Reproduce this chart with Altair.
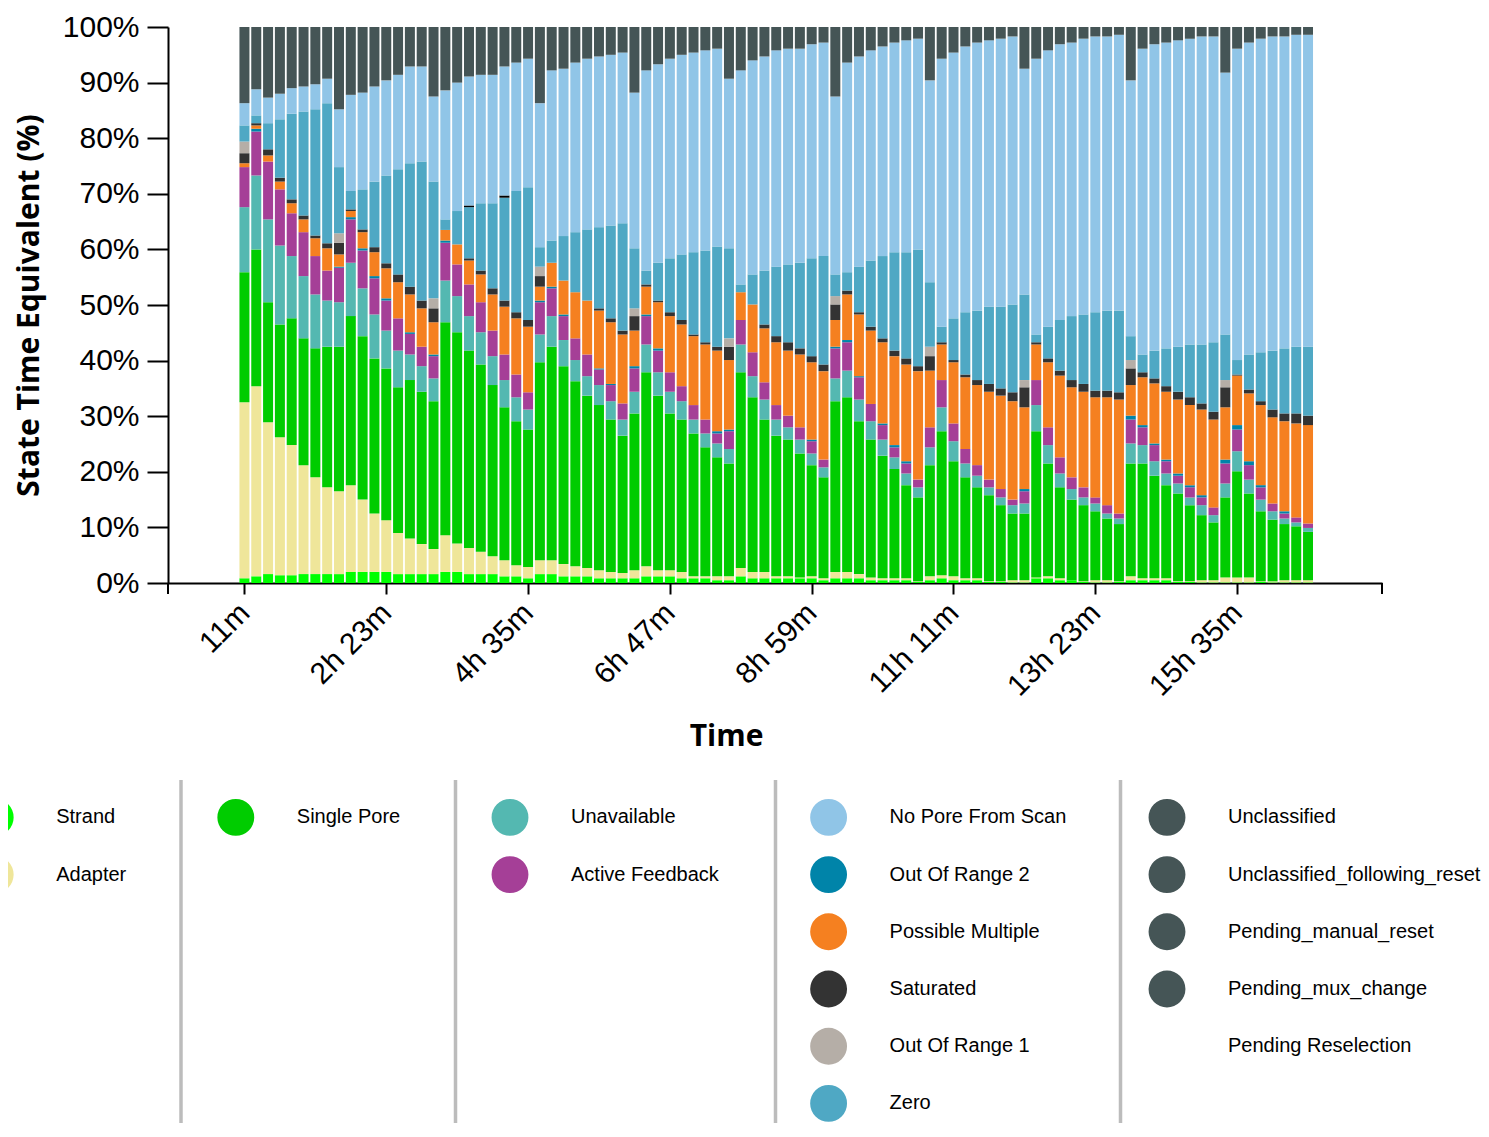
import altair as alt
import pandas as pd

# ---- time bins (minutes) ----
times = [11 * (i + 1) for i in range(91)]
tick_minutes = [11, 143, 275, 407, 539, 671, 803, 935]

# ---- cumulative tops (%) of each state, bottom -> top ----
strand_top = [0.85, 1.2, 1.6, 1.4, 1.4, 1.6, 1.6, 1.6, 1.6, 2.0,
              2.0, 2.0, 2.0, 1.6, 1.6, 1.6, 1.6, 2.0, 2.0, 1.6,
              1.6, 1.6, 1.2, 1.2, 0.85, 1.6, 1.6, 1.2, 1.2, 1.2,
              0.85, 0.85, 0.85, 0.85, 1.2, 1.2, 1.2, 0.85, 0.85, 0.85,
              0.5, 0.5, 1.2, 0.85, 0.85, 0.85, 0.85, 0.85, 0.85, 0.5,
              0.85, 0.85, 0.85, 0.5, 0.5, 0.5, 0.5, 0.2, 0.5, 0.85,
              0.5, 0.5, 0.5, 0.2, 0.2, 0.1, 0.1, 0.85, 0.85, 0.5,
              0.5, 0.2, 0.1, 0.1, 0.2, 0.5, 0.5, 0.5, 0.5, 0.2,
              0.2, 0.1, 0.1, 0.1, 0.1, 0.1, 0.2, 0.1, 0.1, 0.1,
              0.1]
adapter_top = [32.5, 35.4, 28.9, 26.2, 24.8, 21.2, 19.0, 17.2, 16.5, 17.6,
               15.0, 12.5, 11.3, 9.0, 8.0, 7.0, 6.1, 8.6, 7.1, 6.3,
               5.6, 4.8, 4.1, 3.2, 2.9, 4.1, 4.1, 3.4, 3.0, 2.7,
               2.3, 2.0, 1.8, 2.3, 3.0, 2.3, 2.3, 2.0, 1.2, 1.2,
               1.2, 1.2, 2.7, 2.0, 2.0, 1.2, 1.2, 1.0, 1.2, 0.85,
               2.0, 2.0, 1.6, 1.0, 0.85, 0.85, 0.85, 0.3, 1.2, 1.4,
               1.2, 0.85, 0.85, 0.3, 0.3, 0.5, 0.5, 1.0, 1.2, 0.85,
               0.5, 0.3, 0.5, 0.5, 0.3, 1.2, 0.85, 0.85, 0.85, 0.3,
               0.3, 0.5, 0.5, 1.0, 1.0, 1.0, 0.3, 0.3, 0.5, 0.5,
               0.5]
single_pore_top = [55.9, 60.0, 50.5, 46.5, 47.6, 44.0, 42.2, 42.5, 42.5, 48.0,
                   44.4, 40.4, 38.6, 35.2, 36.5, 34.4, 32.7, 46.9, 45.1, 41.8,
                   39.3, 35.6, 31.6, 29.1, 27.6, 39.7, 42.5, 39.0, 36.3, 33.7,
                   32.0, 29.4, 26.5, 30.5, 37.9, 33.7, 30.5, 29.4, 26.9, 24.4,
                   22.6, 21.5, 37.9, 33.4, 29.4, 26.5, 25.8, 23.3, 21.2, 19.0,
                   32.7, 33.4, 29.1, 25.8, 22.9, 20.5, 17.6, 15.4, 21.2, 27.3,
                   21.9, 19.0, 17.2, 15.8, 14.0, 12.5, 12.5, 27.3, 21.5, 17.2,
                   15.0, 14.0, 12.9, 11.6, 10.6, 21.5, 21.5, 19.3, 17.6, 16.1,
                   14.0, 12.2, 10.9, 15.4, 20.1, 16.1, 12.9, 11.4, 10.6, 10.2,
                   9.2]
unavailable_top = [67.6, 73.3, 65.4, 60.7, 58.8, 55.2, 51.9, 50.8, 50.5, 57.6,
                   53.0, 48.3, 45.4, 41.8, 41.1, 39.0, 36.8, 54.4, 51.6, 48.0,
                   45.1, 40.8, 36.5, 33.4, 31.2, 44.7, 48.0, 43.7, 40.1, 37.2,
                   35.6, 32.7, 29.4, 34.4, 42.9, 37.9, 34.4, 32.7, 29.4, 26.9,
                   25.1, 24.1, 42.9, 37.2, 33.0, 29.4, 28.0, 25.8, 23.3, 20.8,
                   36.8, 38.2, 33.0, 29.1, 25.8, 22.6, 19.7, 17.2, 24.4, 31.6,
                   25.5, 21.5, 19.3, 17.2, 15.4, 14.0, 14.3, 32.0, 24.8, 19.7,
                   16.9, 15.4, 14.3, 12.5, 11.6, 25.1, 24.8, 21.9, 19.7, 17.9,
                   15.4, 14.0, 12.2, 17.9, 23.7, 18.6, 15.0, 12.9, 11.6, 10.9,
                   9.9]
active_feedback_top = [74.8, 81.2, 75.8, 70.8, 66.5, 63.1, 58.8, 56.2, 56.7, 65.4,
                       59.8, 54.8, 50.8, 47.6, 44.8, 42.5, 40.8, 61.2, 57.3, 53.7,
                       50.5, 45.4, 41.1, 37.5, 34.3, 50.5, 53.0, 48.0, 44.0, 41.1,
                       38.4, 35.6, 32.3, 38.6, 48.0, 41.8, 37.9, 35.4, 32.0, 29.4,
                       26.9, 27.3, 47.3, 41.5, 36.1, 32.0, 30.1, 28.0, 25.5, 22.2,
                       42.2, 43.3, 37.0, 32.2, 28.4, 24.4, 21.5, 18.6, 28.0, 36.5,
                       28.7, 24.1, 21.2, 18.6, 16.9, 15.0, 16.5, 36.5, 28.0, 22.6,
                       19.0, 17.2, 15.4, 14.0, 12.5, 29.4, 28.0, 24.8, 21.9, 19.3,
                       17.2, 15.4, 13.6, 21.5, 27.6, 21.2, 17.2, 14.3, 12.5, 11.8,
                       10.7]
out_of_range2_top = [74.8, 81.7, 75.8, 70.8, 66.5, 63.1, 58.8, 56.2, 56.9, 65.8,
                     60.2, 55.2, 51.2, 47.6, 45.1, 42.5, 41.1, 61.6, 57.3, 53.7,
                     50.5, 45.4, 41.1, 37.5, 34.3, 50.8, 53.3, 48.3, 44.0, 41.1,
                     38.6, 35.8, 32.3, 39.0, 48.3, 42.2, 37.9, 35.4, 32.0, 29.4,
                     27.3, 27.6, 47.3, 41.5, 36.1, 32.0, 30.1, 28.0, 25.8, 22.2,
                     42.5, 43.7, 37.2, 32.2, 28.7, 24.8, 21.9, 18.6, 28.0, 36.5,
                     28.7, 24.1, 21.2, 18.6, 16.9, 15.0, 16.9, 36.5, 28.0, 22.6,
                     19.0, 17.2, 15.4, 14.0, 12.5, 30.1, 28.4, 25.1, 22.2, 19.7,
                     17.6, 15.8, 13.6, 22.2, 28.4, 21.9, 17.6, 14.3, 12.9, 11.8,
                     10.7]
possible_multiple_top = [75.5, 82.3, 76.9, 72.2, 68.3, 65.4, 62.0, 60.2, 59.1, 66.9,
                         63.1, 59.5, 56.6, 54.1, 51.9, 49.4, 46.9, 63.5, 60.9, 58.0,
                         55.5, 51.9, 49.7, 47.6, 46.1, 53.3, 57.6, 54.4, 52.3, 50.8,
                         49.0, 46.9, 44.7, 45.4, 53.3, 50.5, 48.0, 46.5, 44.4, 42.9,
                         41.8, 40.1, 52.3, 50.1, 45.8, 43.3, 41.8, 41.1, 39.7, 38.1,
                         47.3, 51.9, 48.3, 45.4, 43.3, 40.8, 39.3, 38.1, 38.2, 42.9,
                         39.7, 37.0, 35.6, 34.4, 33.7, 32.7, 31.6, 42.9, 39.7, 37.3,
                         35.2, 34.4, 33.4, 33.4, 33.0, 35.6, 37.0, 35.9, 34.4, 33.0,
                         32.0, 31.2, 29.4, 31.6, 37.3, 34.1, 32.0, 29.8, 29.1, 28.7,
                         28.4]
saturated_top = [77.3, 82.7, 78.0, 72.9, 69.0, 66.1, 62.5, 61.1, 61.2, 67.2,
                 63.6, 60.4, 57.5, 55.5, 53.3, 50.8, 49.4, 63.5, 60.9, 58.4,
                 56.2, 53.0, 50.8, 48.7, 47.3, 55.2, 57.6, 54.4, 52.3, 50.8,
                 49.4, 47.6, 45.4, 48.0, 53.7, 50.8, 48.7, 47.3, 44.7, 43.3,
                 42.5, 42.5, 52.3, 50.1, 46.5, 44.4, 43.3, 42.2, 40.8, 39.3,
                 50.1, 52.6, 48.7, 46.1, 44.0, 41.8, 40.4, 39.0, 40.8, 43.3,
                 40.1, 37.5, 36.5, 35.8, 35.0, 34.3, 35.2, 43.3, 40.4, 38.2,
                 36.5, 35.8, 34.6, 34.6, 34.3, 38.6, 37.9, 36.8, 35.4, 34.4,
                 33.4, 32.3, 30.8, 35.2, 37.5, 34.8, 32.7, 31.2, 30.5, 30.5,
                 30.1]
out_of_range1_top = [79.4, 82.7, 78.0, 72.9, 69.0, 66.1, 62.5, 61.1, 62.9, 67.2,
                     63.6, 60.4, 57.5, 55.5, 53.3, 50.8, 51.2, 63.5, 60.9, 58.4,
                     56.2, 53.0, 50.8, 48.7, 47.3, 56.9, 57.6, 54.4, 52.3, 50.8,
                     49.4, 47.6, 45.4, 49.4, 53.7, 50.8, 48.7, 47.3, 44.7, 43.3,
                     42.5, 44.0, 52.3, 50.1, 46.5, 44.4, 43.3, 42.2, 40.8, 39.3,
                     51.6, 52.6, 48.7, 46.1, 44.0, 41.8, 40.4, 39.0, 42.5, 43.3,
                     40.1, 37.5, 36.5, 35.8, 35.0, 34.3, 36.5, 43.3, 40.4, 38.2,
                     36.5, 35.8, 34.6, 34.6, 34.3, 40.1, 37.9, 36.8, 35.4, 34.4,
                     33.4, 32.3, 30.8, 36.5, 37.5, 34.8, 32.7, 31.2, 30.5, 30.5,
                     30.1]
zero_top = [82.3, 84.1, 82.7, 83.4, 84.4, 84.8, 85.2, 86.3, 74.8, 70.5,
            70.8, 72.2, 73.3, 74.4, 75.5, 75.8, 72.2, 65.4, 66.9, 67.6,
            68.3, 68.3, 69.3, 70.5, 71.2, 60.4, 61.6, 62.4, 63.1, 63.6,
            64.0, 64.3, 64.7, 60.2, 56.2, 57.6, 58.4, 59.1, 59.5, 59.8,
            60.5, 60.2, 53.7, 55.5, 56.2, 56.9, 57.3, 57.6, 58.4, 58.8,
            55.5, 55.9, 56.9, 58.0, 58.8, 59.5, 59.5, 60.0, 54.1, 46.1,
            47.6, 48.7, 49.0, 49.7, 49.7, 50.1, 51.9, 44.7, 46.1, 47.3,
            48.0, 48.3, 48.7, 49.0, 49.0, 44.4, 41.1, 41.8, 42.2, 42.5,
            42.9, 42.9, 43.3, 44.7, 40.1, 41.1, 41.5, 41.8, 42.2, 42.5,
            42.5]
pending_reselection_top = [82.3, 84.1, 82.7, 83.4, 84.4, 84.8, 85.2, 86.3, 74.8, 70.5,
                           70.8, 72.2, 73.3, 74.4, 75.5, 75.8, 72.2, 65.4, 66.9, 67.9,
                           68.3, 68.3, 69.7, 70.5, 71.2, 60.4, 61.6, 62.4, 63.1, 63.6,
                           64.0, 64.3, 64.7, 60.2, 56.2, 57.6, 58.4, 59.1, 59.5, 59.8,
                           60.5, 60.2, 53.7, 55.5, 56.2, 56.9, 57.3, 57.6, 58.4, 58.8,
                           55.5, 55.9, 56.9, 58.0, 58.8, 59.5, 59.5, 60.0, 54.1, 46.1,
                           47.6, 48.7, 49.0, 49.7, 49.7, 50.1, 51.9, 44.7, 46.1, 47.3,
                           48.0, 48.3, 48.7, 49.0, 49.0, 44.4, 41.1, 41.8, 42.2, 42.5,
                           42.9, 42.9, 43.3, 44.7, 40.1, 41.1, 41.5, 41.8, 42.2, 42.5,
                           42.5]
no_pore_top = [86.3, 88.8, 87.3, 88.0, 89.0, 89.3, 89.7, 90.7, 85.2, 87.8,
               88.2, 89.3, 90.4, 91.4, 92.9, 92.9, 87.5, 88.6, 90.0, 91.1,
               91.4, 91.4, 92.9, 93.6, 94.3, 86.3, 92.2, 92.5, 93.6, 94.3,
               94.7, 95.0, 95.4, 88.2, 92.2, 93.3, 94.3, 95.0, 95.4, 95.8,
               96.1, 90.7, 92.2, 94.0, 94.7, 95.8, 96.1, 96.1, 96.9, 97.2,
               87.5, 93.6, 94.7, 95.8, 96.5, 97.2, 97.6, 97.9, 90.4, 94.3,
               95.4, 96.5, 97.2, 97.6, 97.9, 98.3, 92.5, 94.3, 95.8, 96.9,
               97.2, 97.9, 98.3, 98.3, 98.6, 90.4, 96.1, 96.9, 97.2, 97.6,
               97.9, 98.3, 98.3, 91.8, 96.1, 97.2, 97.9, 98.3, 98.3, 98.6,
               98.6]
unclassified_top = [100.0] * len(times)

# ---- legend ----
legend_names = ["Strand", "Adapter", "Single Pore", "Unavailable", "Active Feedback",
                "No Pore From Scan", "Out Of Range 2", "Possible Multiple", "Saturated",
                "Out Of Range 1", "Zero", "Unclassified", "Unclassified_following_reset",
                "Pending_manual_reset", "Pending_mux_change", "Pending Reselection"]
legend_colors = ["#00ff00", "#efe69a", "#00cc00", "#54b8b1", "#a53f97",
                 "#90c5e7", "#0084a9", "#f58020", "#333333",
                 "#b5aea7", "#4fa8c4", "#455556", "#455556",
                 "#455556", "#455556", "#000000"]
legend_col = [0, 0, 1, 2, 2, 3, 3, 3, 3, 3, 3, 4, 4, 4, 4, 4]
legend_row = [0, 1, 0, 0, 1, 0, 1, 2, 3, 4, 5, 0, 1, 2, 3, 4]
separator_after_col = [1, 2, 3, 4]

stack = [
    ("Strand", strand_top), ("Adapter", adapter_top), ("Single Pore", single_pore_top),
    ("Unavailable", unavailable_top), ("Active Feedback", active_feedback_top),
    ("Out Of Range 2", out_of_range2_top), ("Possible Multiple", possible_multiple_top),
    ("Saturated", saturated_top), ("Out Of Range 1", out_of_range1_top),
    ("Zero", zero_top), ("Pending Reselection", pending_reselection_top),
    ("No Pore From Scan", no_pore_top), ("Unclassified", unclassified_top),
]

rows = []
prev = [0.0] * len(times)
for name, tops in stack:
    for i, t in enumerate(times):
        lo, hi = prev[i], tops[i]
        if hi - lo > 0.01:
            rows.append({"t": t, "cat": name, "lo": lo, "hi": hi})
    prev = tops
bar_df = pd.DataFrame(rows)

W, H = 1214, 556
color_scale = alt.Scale(domain=legend_names, range=legend_colors)

bars = alt.Chart(bar_df).mark_bar(width=10).encode(
    x=alt.X("t:Q",
            scale=alt.Scale(domain=[-55.5, 1065.2], nice=False, zero=False),
            axis=alt.Axis(values=tick_minutes,
                          labelExpr="datum.value < 60 ? datum.value + 'm' : floor(datum.value / 60) + 'h ' + (datum.value % 60) + 'm'",
                          labelAngle=-45, labelAlign="right", labelBaseline="middle",
                          tickSize=11, labelPadding=14, labelOverlap=False,
                          title="Time", titleX=558, titleY=162, titleAlign="center",
                          titleBaseline="alphabetic")),
    y=alt.Y("lo:Q",
            scale=alt.Scale(domain=[0, 100], nice=False),
            axis=alt.Axis(values=list(range(0, 101, 10)), labelExpr="datum.value + '%'",
                          tickSize=21, labelPadding=8,
                          title="State Time Equivalent (%)", titleX=-139, titleY=278,
                          titleAlign="center", titleBaseline="middle")),
    y2="hi:Q",
    color=alt.Color("cat:N", scale=color_scale, legend=None),
)

ends = alt.Chart(pd.DataFrame({"e": [0, 1]})).mark_rule(color="black", strokeWidth=2).encode(
    x=alt.X("e:Q", scale=alt.Scale(domain=[0, 1], range=[0, W]), axis=None),
    y=alt.value(H), y2=alt.value(H + 11),
)

leg_df = pd.DataFrame({"cat": legend_names, "col": legend_col, "row": legend_row})
lx = alt.X("col:Q", scale=alt.Scale(domain=[0, 1, 2, 3, 4], range=[-172.8, 67.8, 342, 660.6, 999]), axis=None)
ly = alt.Y("row:Q", scale=alt.Scale(domain=[0, 5], range=[790.4, 1076.4]), axis=None)

circles = alt.Chart(leg_df).transform_filter("datum.cat != 'Pending Reselection'").mark_circle(
    size=1360, opacity=1).encode(
    x=lx, y=ly, color=alt.Color("cat:N", scale=color_scale, legend=None))

texts = alt.Chart(leg_df).mark_text(align="left", baseline="middle", dx=61, fontSize=20,
                                    font="Liberation Sans", color="black").encode(
    x=lx, y=ly, text="cat:N")

seps = alt.Chart(pd.DataFrame({"sep": separator_after_col})).mark_rule(
    color="#bcbcbc", strokeWidth=3.5).encode(
    x=alt.X("sep:Q", scale=alt.Scale(domain=[1, 2, 3, 4], range=[13, 287.5, 607.5, 952.5]), axis=None),
    y=alt.value(753), y2=alt.value(1120),
)

chart = alt.layer(bars, ends, seps, circles, texts).resolve_scale(
    x="independent", y="independent"
).properties(
    width=W, height=H,
    autosize=alt.AutoSizeParams(type="none"),
    padding={"left": 160, "top": 19, "right": 99, "bottom": 540},
).configure_view(stroke=None).configure_axis(
    labelFont="Liberation Sans", labelFontSize=30, labelColor="black",
    titleFont="Open Sans", titleFontSize=30, titleFontWeight="bold", titleColor="black",
    domainColor="black", domainWidth=2, tickColor="black", tickWidth=2, grid=False,
)

chart.save("out.html", embed_options={"renderer": "svg", "actions": False})
